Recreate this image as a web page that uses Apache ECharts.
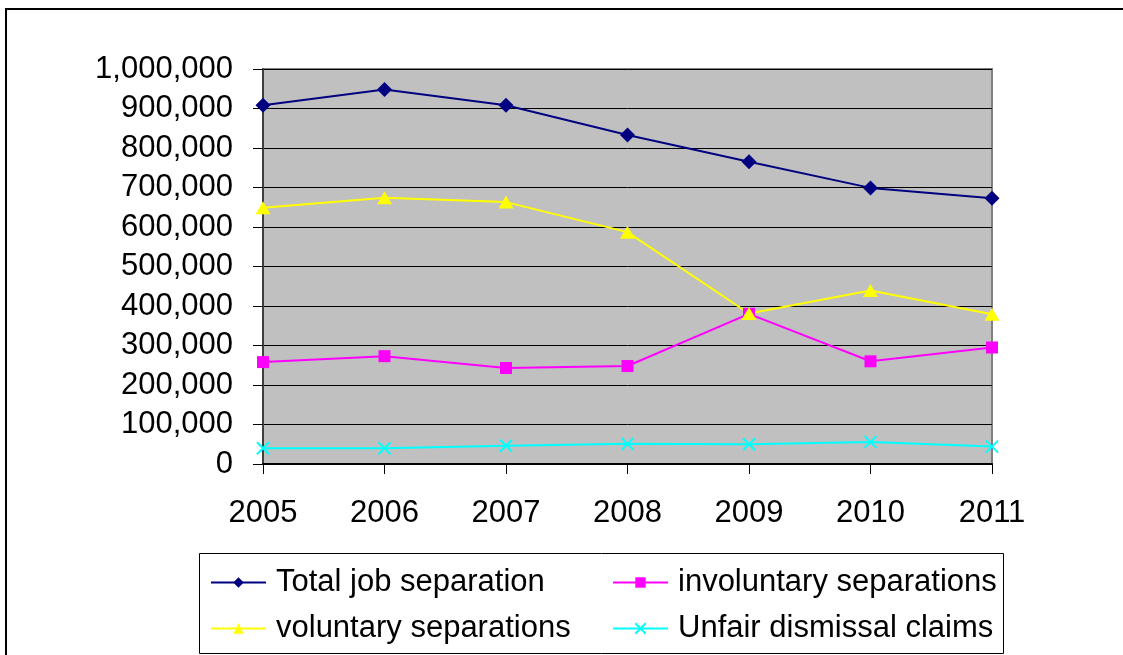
<!DOCTYPE html>
<html><head><meta charset="utf-8">
<script src="https://cdn.jsdelivr.net/npm/echarts@6/dist/echarts.min.js"></script>
<style>html,body{margin:0;padding:0;background:#fff}#c{width:1123px;height:655px}</style>
</head><body><div id="c"></div>
<script>
const years = ['2005','2006','2007','2008','2009','2010','2011'];
const totalSep = [908000, 948000, 908000, 833000, 765000, 699000, 673000];
const involuntary = [258000, 273000, 243000, 248000, 380000, 260000, 295000];
const voluntary = [649000, 674000, 663000, 587000, 381000, 439000, 379000];
const unfair = [40000, 40000, 46000, 51000, 50000, 56000, 44000];
const seriesNames = ['Total job separation','involuntary separations','voluntary separations','Unfair dismissal claims'];

const FONT = 'Liberation Sans, Arial, sans-serif';
const FS = 31;
const xPath = 'path://M0,0L10,10M10,0L0,10';

function fmt(v){ return v.toString().replace(/\B(?=(\d{3})+(?!\d))/g, ','); }

const chart = echarts.init(document.getElementById('c'), null, {renderer:'canvas'});
const legendBase = {
  orient:'horizontal', itemWidth:55, itemHeight:13, itemGap:0, padding:0,
  textStyle:{fontFamily:FONT, fontSize:FS, color:'#000', padding:[0,0,0,5]},
  selectedMode:false
};
chart.setOption({
  animation:false,
  backgroundColor:'#fff',
  graphic:[
    {type:'rect', shape:{x:6, y:9, width:1300, height:800}, style:{fill:'none', stroke:'#000', lineWidth:2}, z:-1},
    {type:'rect', shape:{x:199.5, y:553.5, width:804, height:100}, style:{fill:'#fff', stroke:'#000', lineWidth:1}, z:0}
  ],
  grid:{left:263, right:131, top:69, bottom:191, show:true, backgroundColor:'#C0C0C0', borderColor:'#808080', borderWidth:2},
  legend:[
    Object.assign({}, legendBase, {data:[seriesNames[0]], left:210, top:567}),
    Object.assign({}, legendBase, {data:[seriesNames[1]], left:612, top:567}),
    Object.assign({}, legendBase, {data:[seriesNames[2]], left:210, top:613}),
    Object.assign({}, legendBase, {data:[seriesNames[3]], left:612, top:613})
  ],
  xAxis:{
    type:'category', data:years, boundaryGap:false,
    axisLine:{lineStyle:{color:'#000', width:2}},
    axisTick:{show:true, length:10, lineStyle:{color:'#000'}},
    axisLabel:{fontFamily:FONT, fontSize:FS, color:'#000', margin:34},
    splitLine:{show:false}
  },
  yAxis:{
    type:'value', min:0, max:1000000, interval:100000,
    axisLine:{show:true, lineStyle:{color:'#404040', width:2}},
    axisTick:{show:true, length:10, lineStyle:{color:'#000'}},
    axisLabel:{fontFamily:FONT, fontSize:FS, color:'#000', margin:30, formatter:fmt},
    splitLine:{show:true, lineStyle:{color:'#000', width:1}}
  },
  series:[
    {name:seriesNames[0], type:'line', data:totalSep, symbol:'diamond', symbolSize:15,
      lineStyle:{color:'#000080', width:2}, itemStyle:{color:'#000080'}},
    {name:seriesNames[1], type:'line', data:involuntary, symbol:'rect', symbolSize:12,
      lineStyle:{color:'#FF00FF', width:2}, itemStyle:{color:'#FF00FF'}},
    {name:seriesNames[2], type:'line', data:voluntary, symbol:'triangle', symbolSize:[15,13],
      lineStyle:{color:'#FFFF00', width:2}, itemStyle:{color:'#FFFF00'}},
    {name:seriesNames[3], type:'line', data:unfair, symbol:xPath, symbolSize:12,
      lineStyle:{color:'#00FFFF', width:2}, itemStyle:{color:'#00FFFF', borderColor:'#00FFFF', borderWidth:2}}
  ]
});
</script></body></html>
